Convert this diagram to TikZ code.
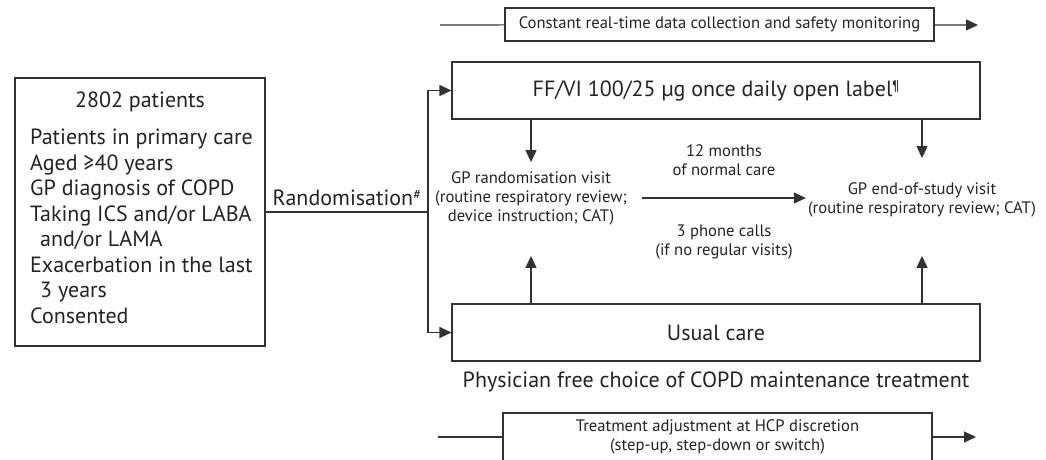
\documentclass[tikz,border=0pt]{standalone}
\usepackage{fontspec}
\setmainfont{PT Sans}
\usetikzlibrary{arrows.meta,positioning}
\definecolor{boxline}{RGB}{50,50,50}
\definecolor{inktext}{RGB}{35,35,35}
\newcommand{\largetxt}{\fontsize{22}{25.5}\selectfont}
\newcommand{\smalltxt}{\fontsize{16.6}{19}\selectfont}
\newcommand{\footmark}[1]{\raisebox{0.55ex}{\fontsize{14}{14}\selectfont #1}}

\begin{document}
\begin{tikzpicture}[
    x=1pt, y=-1pt,
    box/.style={draw=boxline, line width=1.2pt, rectangle, inner sep=0pt, align=center, text=inktext},
    bigbox/.style={box, minimum width=528pt, minimum height=57pt, font=\largetxt},
    thinbox/.style={box, minimum width=429pt, font=\smalltxt},
    lbl/.style={align=center, text=inktext, font=\smalltxt, inner sep=0pt},
    conn/.style={draw=boxline, line width=1.2pt},
    arrow/.style={conn, -{Triangle[length=12pt, width=11pt]}}
]
    \clip (0,0) rectangle (1046,459);
    \node[box, minimum width=250pt, minimum height=268pt] (patients) at (140,212) {};
    \node[lbl, font=\largetxt] (ptitle) at (140,102) {2802 patients};
    \node[lbl, font=\largetxt, align=left, anchor=north west] (criteria) at (30,129) {Patients in primary care\\Aged ≥40 years\\GP diagnosis of COPD\\Taking ICS and/or LABA\\\hspace*{10pt}and/or LAMA\\Exacerbation in the last\\\hspace*{10pt}3 years\\Consented};

    \node[thinbox, minimum height=33pt] (monitor) at (719.5,24.5) {Constant real-time data collection and safety monitoring};
    \node[bigbox] (ffvi) at (716,90.5) {FF/VI 100/25 µg once daily open label\footmark{¶}};
    \node[bigbox] (usual) at (716,332.5) {Usual care};
    \node[lbl, font=\largetxt, below=10pt of usual] (choice) {Physician free choice of COPD maintenance treatment};
    \node[thinbox, minimum height=48pt] (adjust) at (717.5,437) {Treatment adjustment at HCP discretion\\(step-up, step-down or switch)};

    \node[lbl] (randvisit) at (531,198) {GP randomisation visit\\(routine respiratory review;\\device instruction; CAT)};
    \node[lbl] (endvisit) at (922,199.5) {GP end-of-study visit\\(routine respiratory review; CAT)};
    \node[lbl] (months) at (724,160) {12 months\\of normal care};
    \node[lbl] (calls) at (724,242) {3 phone calls\\(if no regular visits)};

    \coordinate (split) at (428,212);
    \coordinate (monin) at (440,25);
    \coordinate (monout) at (978,25);
    \coordinate (adjin) at (438,437);
    \coordinate (adjout) at (976,437);

    \draw[conn] (patients) -- node[lbl, font=\largetxt, above=6pt] (randlbl) {Randomisation\footmark{\#}} (split);
    \draw[arrow] (split) |- (ffvi.west);
    \draw[arrow] (split) |- (usual.west);
    \draw[conn] (monin) -- (monitor);
    \draw[arrow] (monitor) -- (monout);
    \draw[conn] (adjin) -- (adjust);
    \draw[arrow] (adjust) -- (adjout);

    \draw[arrow, shorten >=9pt] (ffvi.south -| randvisit) -- (randvisit.north);
    \draw[arrow, shorten >=24pt] (ffvi.south -| endvisit) -- (endvisit.north);
    \draw[arrow, shorten >=31pt] (usual.north -| randvisit) -- (randvisit.south);
    \draw[arrow, shorten >=39pt] (usual.north -| endvisit) -- (endvisit.south);
    \draw[arrow, shorten <=15pt, shorten >=2pt] (randvisit.east) -- (randvisit.east -| endvisit.west);
\end{tikzpicture}
\end{document}
